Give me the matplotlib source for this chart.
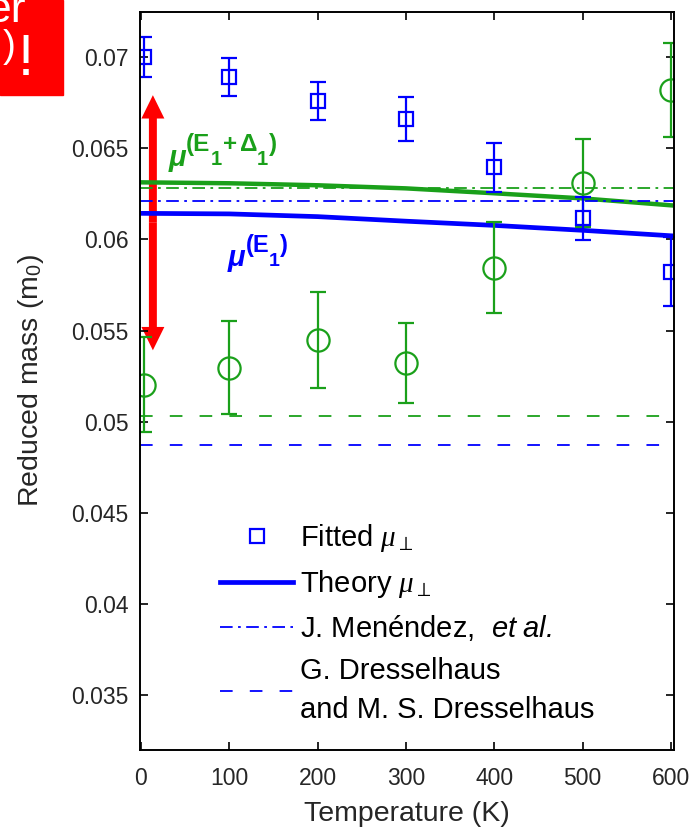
import matplotlib.pyplot as plt
from matplotlib.patches import Rectangle, FancyArrow

plt.rcParams['font.family'] = ['Liberation Sans', 'DejaVu Sans']
plt.rcParams['mathtext.fontset'] = 'custom'
plt.rcParams['mathtext.rm'] = 'Liberation Sans'
plt.rcParams['mathtext.it'] = 'Liberation Serif:italic'
plt.rcParams['mathtext.sf'] = 'Liberation Sans:italic'
plt.rcParams['mathtext.bf'] = 'Liberation Sans:bold'

blue = '#0000ff'
green = '#1aa01a'
dark = '#262626'

# temperatures (K)
temps = [4, 100, 200, 300, 400, 500, 600]

# fitted reduced mass (E1) with error bars
fit_e1 = [0.0700, 0.0689, 0.06758, 0.06659, 0.06396, 0.06115, 0.05824]
fit_e1_err = [0.0011, 0.00105, 0.00105, 0.0012, 0.00135, 0.0012, 0.0019]

# fitted reduced mass (E1 + D1) with error bars
fit_e1d1 = [0.05203, 0.05297, 0.0545, 0.05324, 0.05846, 0.06308, 0.06819]
fit_e1d1_err = [0.0026, 0.00255, 0.00264, 0.0022, 0.0025, 0.0024, 0.0026]

# theory curves
theory_t = [0, 100, 200, 300, 400, 500, 600]
theory_e1 = [0.06143, 0.0614, 0.06125, 0.0610, 0.06077, 0.0605, 0.0602]
theory_e1d1 = [0.06313, 0.06308, 0.06297, 0.0628, 0.06253, 0.06225, 0.06187]

# literature values
menendez_e1 = 0.0621
menendez_e1d1 = 0.0628
dressel_e1 = 0.0487
dressel_e1d1 = 0.0503

# ends of the red arrow
arrow_t = 13.6
arrow_lo, arrow_hi = 0.05392, 0.06791

dashdot = (0, (7, 3, 1.5, 3))
dashed = (0, (7, 9.5))

fig = plt.figure(figsize=(6.93, 8.30), dpi=100)
ax = fig.add_axes([0.2020, 0.0964, 0.7706, 0.8891])

ax.plot(theory_t, theory_e1d1, '-', color=green, lw=3.2)
ax.axhline(menendez_e1d1, color=green, lw=1.3, ls=dashdot)
ax.axhline(dressel_e1d1, color=green, lw=1.3, ls=dashed)

ax.plot(theory_t, theory_e1, '-', color=blue, lw=3.4, label=r'Theory $\mu_\perp$')
ax.axhline(menendez_e1, color=blue, lw=1.3, ls=dashdot,
           label=r'J. Menéndez,  $\mathsf{et\ al.}$')
ax.axhline(dressel_e1, color=blue, lw=1.3, ls=dashed,
           label='G. Dresselhaus\nand M. S. Dresselhaus')

ax.errorbar(temps, fit_e1d1, yerr=fit_e1d1_err, fmt='o', color=green,
            mfc='none', mec=green, ms=16, mew=1.6, elinewidth=1.6,
            capsize=6, capthick=1.6)
ax.errorbar(temps, fit_e1, yerr=fit_e1_err, fmt='s', color=blue,
            mfc='none', mec=blue, ms=9.5, mew=1.6, elinewidth=1.6,
            capsize=6, capthick=1.6)
ax.plot([], [], 's', color=blue, mfc='none', ms=9.5, mew=1.6,
        label=r'Fitted $\mu_\perp$')

# double-headed red arrow, drawn as two arrows from the middle
mid = (arrow_lo + arrow_hi) / 2
for tip in (arrow_lo, arrow_hi):
    ax.add_patch(FancyArrow(arrow_t, mid, 0, tip - mid, width=9,
                            head_width=26, head_length=0.00128,
                            length_includes_head=True, color='red', lw=0))

ax.set_xlim(-1, 603.5)
ax.set_ylim(0.0320, 0.07247)
ax.set_xticks([0, 100, 200, 300, 400, 500, 600])
yticks = [0.035, 0.04, 0.045, 0.05, 0.055, 0.06, 0.065, 0.07]
ax.set_yticks(yticks)
ax.set_yticklabels(['%g' % v for v in yticks])
ax.tick_params(direction='in', top=True, right=True, length=6, width=1.2,
               labelsize=16.5, colors='black', labelcolor=dark)
ax.tick_params(axis='x', pad=12)
ax.tick_params(axis='y', pad=8)
for s in ax.spines.values():
    s.set_linewidth(1.4)
    s.set_color('black')


def rich_label(x, y, pieces, color):
    # lay out text pieces one after another with their own size, raise and gap
    renderer = fig.canvas.get_renderer()
    offset = 0.0
    for s, size, dy, style, gap in pieces:
        offset += gap
        t = ax.annotate(s, (x, y), xytext=(offset, dy), textcoords='offset points',
                        fontsize=size, color=color, fontweight='bold',
                        fontstyle=style, ha='left', va='baseline',
                        annotation_clip=False)
        offset += t.get_window_extent(renderer).width * 72 / fig.dpi + gap


rich_label(31, 0.0640, [('μ', 21, 0, 'italic', 0), ('(E', 17.5, 11, 'normal', 0),
                        ('1', 14.5, 1, 'normal', 0), ('+', 17.5, 11, 'normal', 1.5),
                        ('Δ', 17.5, 11, 'normal', 0),
                        ('1', 14.5, 1, 'normal', 0), (')', 17.5, 11, 'normal', 0.5)],
           green)
rich_label(98.5, 0.05856, [('μ', 21, 0, 'italic', 0), ('(E', 17, 10, 'normal', 0),
                           ('1', 14, 0, 'normal', 0), (')', 17, 10, 'normal', 0)],
           blue)

ax.set_xlabel('Temperature (K)', fontsize=20.5, color=dark, labelpad=8)
ax.set_ylabel(r'Reduced mass (m$_0$)', fontsize=20.5, color=dark, labelpad=18)

handles, labels = ax.get_legend_handles_labels()
order = [3, 0, 1, 2]
leg = ax.legend([handles[i] for i in order], [labels[i] for i in order],
                loc='upper left', bbox_to_anchor=(0.101, 0.344), frameon=False,
                fontsize=21, handlelength=2.5, handletextpad=0.24,
                labelspacing=0.46)
leg.get_texts()[3].set_linespacing(1.5)

# red label box in the corner
fig.patches.append(Rectangle((0, 1 - 95 / 830), 63 / 693, 95 / 830,
                             transform=fig.transFigure, color='red', zorder=0))
fig.text(26 / 693, 1 - 22 / 830, 'er', color='white', fontsize=32,
         ha='right', va='baseline')
fig.text(16 / 693, 1 - 57 / 830, ')', color='white', fontsize=28,
         ha='right', va='baseline')
fig.text(18 / 693, 1 - 75 / 830, '!', color='white', fontsize=42,
         ha='left', va='baseline')

fig.savefig('out.png', dpi=100)
